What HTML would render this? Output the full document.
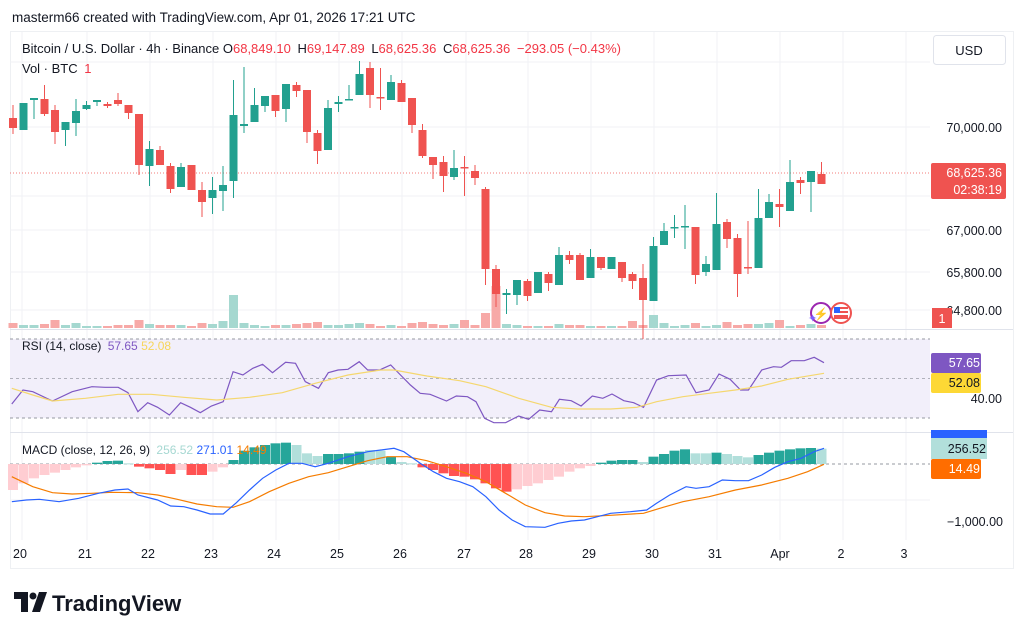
<!DOCTYPE html>
<html><head><meta charset="utf-8">
<style>
html,body{margin:0;padding:0;background:#fff;}
body{width:1024px;height:638px;overflow:hidden;font-family:"Liberation Sans",sans-serif;}
svg text{font-family:"Liberation Sans",sans-serif;}
</style></head>
<body>
<svg id="s" width="1024" height="638" viewBox="0 0 1024 638" xmlns="http://www.w3.org/2000/svg">
<rect width="1024" height="638" fill="#fff"/>
<text x="12" y="22" font-size="13.5" fill="#131722">masterm66 created with TradingView.com, Apr 01, 2026 17:21 UTC</text>
<rect x="10.5" y="31.5" width="1003" height="537" fill="none" stroke="#eef0f3"/>
<g id="grid" stroke="#f0f2f5" stroke-width="1"></g>
<!-- RSI band -->
<rect x="10" y="339" width="920" height="79" fill="#f2effa"/>
<line x1="10" y1="339" x2="930" y2="339" stroke="#9598a1" stroke-dasharray="3,3"/>
<line x1="10" y1="378.5" x2="930" y2="378.5" stroke="#9598a1" stroke-dasharray="3,3" opacity="0.7"/>
<line x1="10" y1="418" x2="930" y2="418" stroke="#9598a1" stroke-dasharray="3,3"/>
<line x1="10" y1="329.5" x2="1013" y2="329.5" stroke="#e0e3eb"/>
<line x1="10" y1="432.5" x2="1013" y2="432.5" stroke="#e0e3eb"/>
<line x1="10" y1="464" x2="930" y2="464" stroke="#9598a1" stroke-dasharray="3,3"/>
<line x1="10" y1="173" x2="930" y2="173" stroke="#ef5350" stroke-dasharray="1,2" stroke-width="0.8"/>
<g id="vol"></g>
<g id="hist"></g>
<g id="candles"></g>
<g id="lines"></g>
<!-- legend -->
<text x="22" y="53" font-size="13" fill="#131722">Bitcoin / U.S. Dollar · 4h · Binance <tspan>O</tspan><tspan fill="#f23645">68,849.10</tspan> <tspan dx="3">H</tspan><tspan fill="#f23645">69,147.89</tspan> <tspan dx="3">L</tspan><tspan fill="#f23645">68,625.36</tspan> <tspan dx="3">C</tspan><tspan fill="#f23645">68,625.36</tspan> <tspan dx="3" fill="#f23645">−293.05 (−0.43%)</tspan></text>
<text x="22" y="73" font-size="13" fill="#131722">Vol · BTC <tspan dx="3" fill="#f23645">1</tspan></text>
<text x="22" y="350" font-size="12" fill="#131722">RSI (14, close) <tspan dx="3" fill="#7e57c2">57.65</tspan> <tspan fill="#f7d55a">52.08</tspan></text>
<text x="22" y="454" font-size="12" fill="#131722">MACD (close, 12, 26, 9) <tspan dx="3" fill="#a6d8d2">256.52</tspan> <tspan fill="#2962ff">271.01</tspan> <tspan fill="#f57c00">14.49</tspan></text>
<!-- price axis -->
<rect x="933.5" y="35.5" width="72" height="29" rx="3" fill="#fff" stroke="#e0e3eb"/>
<text x="969" y="55" font-size="13" fill="#131722" text-anchor="middle">USD</text>
<g font-size="12.5" fill="#131722" text-anchor="end">
<text x="1002" y="132">70,000.00</text>
<text x="1002" y="235">67,000.00</text>
<text x="1002" y="277">65,800.00</text>
<text x="1002" y="315">64,800.00</text>
<text x="1002" y="403">40.00</text>
<text x="1003" y="526">−1,000.00</text>
</g>
<rect x="931" y="163" width="75" height="36" rx="2" fill="#ef5350"/>
<text x="1002" y="177" font-size="12.5" fill="#fff" text-anchor="end">68,625.36</text>
<text x="1002" y="194" font-size="12.5" fill="#fff" text-anchor="end">02:38:19</text>
<rect x="932" y="308" width="20" height="20" fill="#ef5350"/>
<text x="942" y="323" font-size="12.5" fill="#fff" text-anchor="middle">1</text>
<rect x="931" y="353" width="50" height="20" rx="2" fill="#7e57c2"/>
<text x="1002" y="367" font-size="12.5" fill="#fff" text-anchor="end" dx="-22">57.65</text>
<rect x="931" y="373" width="50" height="20" rx="2" fill="#fdd835"/>
<text x="980" y="387" font-size="12.5" fill="#131722" text-anchor="end">52.08</text>
<rect x="931" y="430" width="56" height="8" fill="#2962ff"/>
<rect x="931" y="438" width="56" height="21" fill="#b2dfdb"/>
<text x="986" y="453" font-size="12.5" fill="#131722" text-anchor="end">256.52</text>
<rect x="931" y="459" width="50" height="20" rx="2" fill="#ff6d00"/>
<text x="980" y="473" font-size="12.5" fill="#fff" text-anchor="end">14.49</text>
<!-- icons -->
<circle cx="821" cy="313" r="10" fill="#fff" stroke="#9c27b0" stroke-width="2"/>
<text x="821" y="318" font-size="12" fill="#9c27b0" text-anchor="middle">⚡</text>
<text x="808" y="322" font-size="11" fill="#7b61ff">✦</text>
<circle cx="841" cy="313" r="10" fill="#fff" stroke="#ef5350" stroke-width="2"/>
<rect x="834" y="307" width="14" height="12" fill="#ef5350"/>
<rect x="834" y="309" width="14" height="2" fill="#fff"/><rect x="834" y="313" width="14" height="2" fill="#fff"/>
<rect x="834" y="307" width="6" height="6" fill="#2962ff"/>
<!-- dates -->
<g id="dates" font-size="12.5" fill="#131722" text-anchor="middle"></g>
<!-- logo -->
<g transform="translate(14,592)">
<path d="M0 0 H14 V20 H7 V7 H0 Z" fill="#131722"/>
<circle cx="19" cy="4" r="3.5" fill="#131722"/>
<path d="M18 20 L25 0 H33 L26 20 Z" fill="#131722"/>
</g>
<text x="52" y="611" font-size="22" font-weight="bold" fill="#131722">TradingView</text>
</svg>
<script>
var NS="http://www.w3.org/2000/svg";
function el(p,t,a){var e=document.createElementNS(NS,t);for(var k in a)e.setAttribute(k,a[k]);p.appendChild(e);return e;}
var g=document.getElementById('grid');
var days=[["20",20],["21",85],["22",148],["23",211],["24",274],["25",337],["26",400],["27",464],["28",526],["29",589],["30",652],["31",715],["Apr",778],["2",841],["3",904]];
days.forEach(function(d){el(g,'line',{x1:d[1]+2,y1:32,x2:d[1]+2,y2:540});
 var t=el(document.getElementById('dates'),'text',{x:d[1]+(d[0]=="Apr"?2:0),y:558});t.textContent=d[0];});
[62,127,196,230,272,310,378,500].forEach(function(y){el(g,'line',{x1:10,y1:y,x2:930,y2:y});});
// candles: [color, bodyTop, bodyBot, wickTop, wickBot]
var C=[
['r',118,128,105,134],['g',103,130,103,130],['g',98,100,98,119],['r',99,114,85,116],['r',110,132,105,144],
['g',122,130,122,146],['g',111,123,99,136],['g',105,109,101,110],['g',100,102,100,106],['r',104,106,102,108],
['r',100,104,93,106],['r',105,113,105,119],['r',114,165,114,175],['g',149,166,141,186],['r',150,165,146,165],
['r',166,189,163,193],['g',167,187,163,187],['r',165,190,165,190],['r',190,202,182,217],['g',190,198,177,214],
['g',185,191,166,211],['g',115,181,80,198],['g',124,126,67,133],['g',105,122,88,122],['g',96,106,96,112],
['r',95,111,95,117],['g',84,109,84,122],['r',85,91,82,97],['r',90,132,90,143],['r',133,151,130,164],
['g',108,150,100,150],['g',102,104,96,112],['g',99,100,85,100],['g',74,95,61,95],['r',68,95,62,108],
['r',97,98,68,110],['g',82,100,75,100],['r',83,102,80,102],['r',98,125,98,133],['r',130,156,124,158],
['r',157,165,157,179],['r',162,176,156,192],['g',168,177,150,180],['r',167,168,156,196],['r',171,178,165,185],
['r',189,269,187,285],['r',269,294,265,307],['g',293,295,289,314],['g',280,295,280,305],['r',281,296,279,301],
['g',272,293,272,293],['r',274,283,272,291],['g',255,285,247,285],['r',255,260,251,264],['r',255,280,253,280],
['g',257,278,249,278],['r',257,268,257,270],['g',257,269,257,269],['r',262,278,262,282],['r',274,281,272,289],
['r',278,300,264,339],['g',246,301,237,301],['g',231,245,223,245],['g',227,228,215,238],['g',226,227,205,249],
['r',227,275,227,284],['g',264,272,256,276],['g',224,270,193,270],['r',222,239,219,248],['r',238,274,234,297],
['r',267,268,221,274],['g',218,268,189,268],['g',202,218,194,218],['r',204,207,189,227],['g',182,211,160,211],
['r',180,183,177,194],['g',171,182,171,212],['r',174,184,162,184]];
var cg=document.getElementById('candles'),vg=document.getElementById('vol');
var vols=[5,3,3,4,8,3,5,2,2,2,3,3,8,4,3,3,3,2,5,4,7,33,5,3,2,3,3,4,5,6,3,3,4,5,4,2,3,2,5,6,4,3,4,8,3,15,42,4,3,2,2,2,4,3,3,2,2,2,2,7,3,13,5,2,3,5,2,3,6,3,4,4,5,8,2,3,4,3];
C.forEach(function(c,i){var x=13+i*10.5;var col=c[0]=='g'?'#089981':'#f23645';
 if(c[0]=='g')col='#22a08f'; else col='#ef5350';
 el(cg,'line',{x1:x,y1:c[3],x2:x,y2:c[4],stroke:col,'stroke-width':1});
 el(cg,'rect',{x:x-4,y:c[1],width:8,height:Math.max(1.5,c[2]-c[1]),fill:col});
 var h=vols[i]||3; el(vg,'rect',{x:x-4.5,y:328-h,width:9,height:h,fill:c[0]=='g'?'#a5d8d0':'#f7a9a7'});
});
// histogram
var H=[[480,'p'],[460,'p'],[445,'p'],[435,'p'],[428,'p'],[420,'p'],[412,'p'],[406,'p'],[398,'g'],[393,'g'],[392,'g'],[400,'l'],[410,'r'],[415,'r'],[420,'r'],[432,'r'],[420,'p'],[435,'r'],[435,'r'],[425,'p'],[412,'p'],[390,'g'],[362,'g'],[352,'g'],[345,'g'],[340,'g'],[338,'g'],[345,'l'],[370,'l'],[378,'l'],[372,'g'],[372,'g'],[370,'g'],[365,'g'],[360,'l'],[362,'l'],[380,'g'],[396,'l'],[400,'l'],[412,'r'],[420,'r'],[430,'r'],[438,'r'],[440,'r'],[448,'r'],[460,'r'],[475,'r'],[485,'r'],[478,'p'],[468,'p'],[460,'p'],[450,'p'],[440,'p'],[425,'p'],[415,'p'],[408,'p'],[398,'g'],[392,'g'],[390,'g'],[390,'g'],[396,'l'],[380,'g'],[372,'g'],[362,'g'],[358,'g'],[370,'l'],[370,'l'],[368,'g'],[372,'l'],[378,'l'],[382,'l'],[375,'g'],[368,'g'],[362,'g'],[358,'g'],[355,'g'],[354,'g'],[356,'l']];
var cols={p:'#ffcdd2',r:'#ff5252',g:'#26a69a',l:'#b2dfdb'};
var hg=document.getElementById('hist');
H.forEach(function(h,i){var x=13+i*10.5-5;var y=330+h[0]/3;var y0=464;
 el(hg,'rect',{x:x,y:Math.min(y,y0),width:10,height:Math.max(1,Math.abs(y-y0)),fill:cols[h[1]]});});
function pl(pts,color,w){var s=pts.map(function(p){return (p[0]/1.523).toFixed(1)+','+(330+p[1]/3).toFixed(1);}).join(' ');
 el(document.getElementById('lines'),'polyline',{points:s,fill:'none',stroke:color,'stroke-width':w});}
pl([[18,222],[35,180],[50,185],[80,213],[110,185],[140,170],[160,172],[180,172],[195,188],[210,245],[225,218],[240,232],[258,255],[275,218],[290,232],[305,248],[322,228],[340,215],[355,125],[370,135],[385,115],[400,103],[415,128],[435,97],[450,100],[465,155],[485,175],[500,128],[515,120],[530,118],[547,95],[560,120],[578,120],[595,105],[610,135],[625,165],[640,190],[655,193],[680,213],[695,198],[712,200],[725,215],[738,265],[752,278],[770,278],[790,258],[805,268],[822,240],[840,245],[852,208],[870,212],[885,228],[902,198],[918,205],[932,192],[950,212],[965,218],[980,232],[1000,150],[1018,137],[1045,135],[1060,188],[1080,180],[1095,132],[1112,148],[1128,180],[1140,180],[1160,120],[1178,110],[1190,112],[1205,92],[1225,92],[1240,82],[1255,98]],'#7e57c2',1.2);
pl([[18,175],[50,195],[80,213],[130,205],[180,193],[230,193],[280,202],[330,210],[380,202],[430,188],[480,160],[530,135],[580,120],[600,120],[650,138],[700,152],[740,170],[790,205],[840,232],[880,237],[930,237],[970,232],[1000,215],[1040,200],[1080,190],[1120,180],[1160,168],[1200,148],[1255,130]],'#f5d76e',1.2);
pl([[18,440],[50,470],[80,488],[110,492],[140,490],[170,487],[210,488],[240,495],[270,508],[300,522],[330,530],[355,532],[380,515],[410,485],[440,460],[470,440],[500,428],[530,410],[560,392],[590,380],[620,380],[650,392],[680,410],[710,430],[740,455],[770,490],[800,525],[830,548],[860,558],[890,560],[930,556],[980,550],[1010,532],[1040,515],[1080,500],[1120,480],[1160,465],[1200,445],[1230,425],[1255,403]],'#f57c00',1.2);
pl([[18,515],[40,510],[60,508],[90,515],[120,505],[150,490],[175,480],[195,477],[210,495],[240,510],[260,528],[280,530],[300,540],[320,552],[340,552],[360,518],[380,480],[400,445],[420,420],[440,400],[460,400],[480,410],[500,400],[530,380],[560,365],[580,360],[600,355],[615,365],[640,400],[660,425],[680,445],[700,455],[720,470],[740,500],[760,540],[780,570],[800,590],[830,592],[850,580],[870,573],[890,570],[910,560],[930,550],[960,545],[985,540],[1000,520],[1020,495],[1045,470],[1060,475],[1080,470],[1100,450],[1120,452],[1140,452],[1160,435],[1180,412],[1200,395],[1220,385],[1240,365],[1255,355]],'#2962ff',1.2);
</script>
</body></html>
